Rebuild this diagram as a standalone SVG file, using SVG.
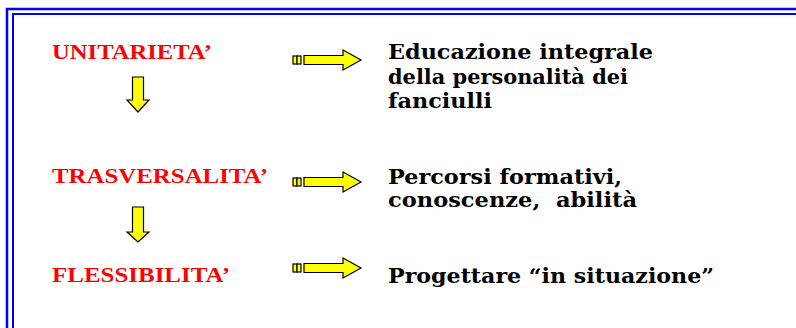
<svg xmlns="http://www.w3.org/2000/svg" width="796" height="328" viewBox="0 0 796 328">
  <style>
    .frame { fill: none; stroke: #0000ff; }
    .lbl { font-family: "Liberation Serif", "DejaVu Serif", serif; font-weight: bold; font-size: 21px; fill: #ff0000; }
    .txt { font-family: "DejaVu Serif", "Liberation Serif", serif; font-weight: bold; font-size: 20px; fill: #000000; white-space: pre; }
    .arr { fill: #ffff00; stroke: #000000; stroke-width: 1.2; stroke-linejoin: miter; }
  </style>
  <defs>
    <g id="rarrow">
      <rect class="arr" x="293" y="-4" width="4" height="8"/>
      <rect class="arr" x="297" y="-4" width="4" height="8"/>
      <path class="arr" d="M304,-4.5 H343 V-10 L361,0 L343,10 V4.5 H304 Z"/>
    </g>
  </defs>
  <rect width="796" height="328" fill="#ffffff"/>
  <g id="frame">
    <rect class="frame" x="7" y="9" width="800" height="330" stroke-width="2.5"/>
    <rect class="frame" x="13" y="14" width="800" height="330" stroke-width="2"/>
  </g>
  <g id="n-unitarieta"><text class="lbl" x="52" y="59" textLength="160" lengthAdjust="spacingAndGlyphs">UNITARIETA’</text></g>
  <g id="n-trasversalita"><text class="lbl" x="52" y="183" textLength="216" lengthAdjust="spacingAndGlyphs">TRASVERSALITA’</text></g>
  <g id="n-flessibilita"><text class="lbl" x="52" y="282" textLength="178" lengthAdjust="spacingAndGlyphs">FLESSIBILITA’</text></g>
  <g id="n-educazione">
    <text class="txt" x="388" y="59" textLength="265" lengthAdjust="spacingAndGlyphs">Educazione integrale</text>
    <text class="txt" x="388" y="84" textLength="240" lengthAdjust="spacingAndGlyphs">della personalità dei</text>
    <text class="txt" x="388" y="108" textLength="104" lengthAdjust="spacingAndGlyphs">fanciulli</text>
  </g>
  <g id="n-percorsi">
    <text class="txt" x="388" y="184" textLength="234" lengthAdjust="spacingAndGlyphs">Percorsi formativi,</text>
    <text class="txt" x="388" y="207" textLength="249" lengthAdjust="spacingAndGlyphs">conoscenze,  abilità</text>
  </g>
  <g id="n-progettare">
    <text class="txt" x="388" y="283" textLength="326" lengthAdjust="spacingAndGlyphs">Progettare “in situazione”</text>
  </g>
  <g id="connectors">
    <use href="#rarrow" transform="translate(0,60)"/>
    <use href="#rarrow" transform="translate(0,182)"/>
    <use href="#rarrow" transform="translate(0,268)"/>
    <path class="arr" d="M132.5,77 H143.5 V100 H149 L138,112 L127,100 H132.5 Z"/>
    <path class="arr" d="M132.5,207 H143.5 V232 H149 L138,242 L127,232 H132.5 Z"/>
  </g>
</svg>
